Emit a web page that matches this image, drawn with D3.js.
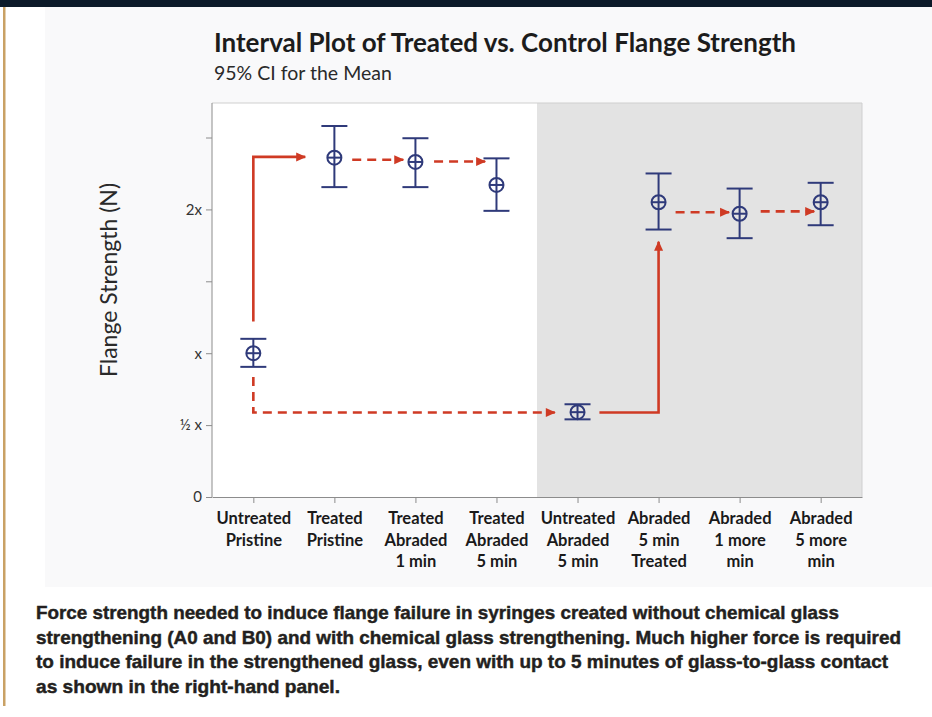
<!DOCTYPE html>
<html>
<head>
<meta charset="utf-8">
<script src="https://cdn.jsdelivr.net/npm/d3@7"></script>
<style>
  body { margin: 0; background: #fff; }
  svg { display: block; }
</style>
</head>
<body>
<svg id="chart" width="932" height="717"></svg>
<script>
// data (units of "x")
const categories = [
    "Untreated\nPristine",
    "Treated\nPristine",
    "Treated\nAbraded\n1 min",
    "Treated\nAbraded\n5 min",
    "Untreated\nAbraded\n5 min",
    "Abraded\n5 min\nTreated",
    "Abraded\n1 more\nmin",
    "Abraded\n5 more\nmin"
];
const means = [1.00, 2.36, 2.33, 2.17, 0.59, 2.05, 1.97, 2.05];
const lower = [0.905, 2.155, 2.155, 1.99, 0.54, 1.86, 1.80, 1.89];
const upper = [1.10, 2.58, 2.495, 2.355, 0.645, 2.25, 2.145, 2.185];

const yTickValues = [0, 0.5, 1, 1.5, 2, 2.5];
const yTickLabels = ["0", "½ x", "x", "", "2x", ""];

// arrows: [category position, value] pairs
const arrows = [
    { dashed: false, pts: [[0, 1.22], [0, 2.365], [0.64, 2.365]] },
    { dashed: true,  pts: [[1.22, 2.345], [1.85, 2.345]] },
    { dashed: true,  pts: [[2.23, 2.333], [2.86, 2.333]] },
    { dashed: true,  pts: [[0, 0.835], [0, 0.588], [3.72, 0.588]] },
    { dashed: false, pts: [[4.27, 0.588], [5, 0.588], [5, 1.775]] },
    { dashed: true,  pts: [[5.21, 1.98], [5.87, 1.98]] },
    { dashed: true,  pts: [[6.26, 1.986], [6.92, 1.986]] }
];

const title = "Interval Plot of Treated vs. Control Flange Strength";
const subtitle = "95% CI for the Mean";
const yTitle = "Flange Strength (N)";
const caption = [
    "Force strength needed to induce flange failure in syringes created without chemical glass",
    "strengthening (A0 and B0) and with chemical glass strengthening. Much higher force is required",
    "to induce failure in the strengthened glass, even with up to 5 minutes of glass-to-glass contact",
    "as shown in the right-hand panel."
];
// measured widths of the condensed caption lines
const captionWidths = [803, 865, 852, 304];

const W = 932, H = 717;
const plot = { left: 212, right: 862, top: 103, bottom: 497 };
const navy = "#2f3a7a";
const red = "#cf3a24";
const font = "Lato, 'Open Sans', sans-serif";

const svg = d3.select("#chart");

// page frame: dark strip on top, gold rule on the left
svg.append("rect").attr("x", 0).attr("y", 0).attr("width", W).attr("height", 7).attr("fill", "#0c1a29");
svg.append("rect").attr("x", 45).attr("y", 7).attr("width", W - 45).attr("height", 580).attr("fill", "#f9f9fa");
svg.append("rect").attr("x", 3).attr("y", 7).attr("width", 2.5).attr("height", 699).attr("fill", "#c9a165");

const x = d3.scalePoint()
    .domain(d3.range(categories.length))
    .range([plot.left, plot.right])
    .padding(0.51);
const xAt = f => x(0) + f * x.step();

const y = d3.scaleLinear()
    .domain([0, 2.74])
    .range([plot.bottom, plot.top]);

// plot background + shaded right-hand panel
svg.append("rect")
    .attr("x", plot.left).attr("y", plot.top)
    .attr("width", plot.right - plot.left).attr("height", plot.bottom - plot.top)
    .attr("fill", "#ffffff");
svg.append("rect")
    .attr("x", xAt(3.5)).attr("y", plot.top)
    .attr("width", plot.right - xAt(3.5)).attr("height", plot.bottom - plot.top)
    .attr("fill", "#e3e3e3");
// light frame top/right
svg.append("path")
    .attr("d", `M${plot.left},${plot.top}H${plot.right}V${plot.bottom}`)
    .attr("fill", "none").attr("stroke", "#cfcfcf").attr("stroke-width", 1);

// axes
const xAxis = svg.append("g")
    .attr("transform", `translate(0,${plot.bottom})`)
    .call(d3.axisBottom(x).tickSize(6).tickSizeOuter(0).tickFormat(""));
xAxis.selectAll("path, line").attr("stroke", "#8c8c8c");

xAxis.selectAll(".tick").append("text")
    .attr("fill", "#1a1a1a")
    .attr("font-family", font)
    .attr("font-weight", "bold")
    .attr("font-size", 16.5)
    .attr("text-anchor", "middle")
    .each(function(d) {
        const lines = categories[d].split("\n");
        d3.select(this).selectAll("tspan")
            .data(lines)
            .join("tspan")
            .attr("x", 0)
            .attr("y", (l, i) => 27 + i * 21.7)
            .text(l => l);
    });

const yAxis = svg.append("g")
    .attr("transform", `translate(${plot.left},0)`)
    .call(d3.axisLeft(y)
        .tickValues(yTickValues)
        .tickSize(6)
        .tickSizeOuter(0)
        .tickFormat((d, i) => yTickLabels[i]));
yAxis.select(".domain").attr("d", `M0,${plot.bottom}V${plot.top}`);
yAxis.selectAll("path, line").attr("stroke", "#8c8c8c");
yAxis.selectAll("text")
    .attr("fill", "#333")
    .attr("font-family", font)
    .attr("font-size", 15)
    .attr("x", -10);

// arrows
const defs = svg.append("defs");
defs.append("marker")
    .attr("id", "head")
    .attr("viewBox", "0 0 10 10")
    .attr("refX", 9).attr("refY", 5)
    .attr("markerUnits", "userSpaceOnUse")
    .attr("markerWidth", 11).attr("markerHeight", 10)
    .attr("orient", "auto")
    .append("path")
    .attr("d", "M0,0.5L10,5L0,9.5Z")
    .attr("fill", red);

const line = d3.line().x(d => xAt(d[0])).y(d => y(d[1]));
svg.append("g").selectAll("path")
    .data(arrows)
    .join("path")
    .attr("d", d => line(d.pts))
    .attr("fill", "none")
    .attr("stroke", red)
    .attr("stroke-width", 2.6)
    .attr("stroke-dasharray", d => d.dashed ? "9,6" : null)
    .attr("marker-end", "url(#head)");

// interval marks
const marks = svg.append("g").selectAll("g")
    .data(means.map((m, i) => ({ i, m, lo: lower[i], hi: upper[i] })))
    .join("g")
    .attr("transform", d => `translate(${x(d.i)},0)`)
    .attr("stroke", navy)
    .attr("stroke-width", 2)
    .attr("fill", "none");

marks.append("line").attr("x1", 0).attr("x2", 0).attr("y1", d => y(d.hi)).attr("y2", d => y(d.lo));
marks.append("line").attr("x1", -13).attr("x2", 13).attr("y1", d => y(d.hi)).attr("y2", d => y(d.hi));
marks.append("line").attr("x1", -13).attr("x2", 13).attr("y1", d => y(d.lo)).attr("y2", d => y(d.lo));
marks.append("circle").attr("cx", 0).attr("cy", d => y(d.m)).attr("r", 7);
marks.append("line").attr("x1", -7).attr("x2", 7).attr("y1", d => y(d.m)).attr("y2", d => y(d.m));

// titles
svg.append("text")
    .attr("x", 214).attr("y", 52)
    .attr("font-family", font).attr("font-weight", "bold").attr("font-size", 26)
    .attr("fill", "#1c1c1c")
    .text(title);
svg.append("text")
    .attr("x", 214).attr("y", 80)
    .attr("font-family", font).attr("font-size", 19.5)
    .attr("fill", "#2a2a2a")
    .text(subtitle);
svg.append("text")
    .attr("transform", `translate(117,${(plot.top + plot.bottom) / 2 - 20}) rotate(-90)`)
    .attr("text-anchor", "middle")
    .attr("font-family", font).attr("font-size", 23)
    .attr("fill", "#2a2a2a")
    .text(yTitle);

// caption, squeezed horizontally to match the condensed face
svg.append("g").selectAll("text")
    .data(caption)
    .join("text")
    .attr("x", 36)
    .attr("y", (d, i) => 619 + i * 24.7)
    .attr("font-family", "'Liberation Sans', Arial, sans-serif")
    .attr("font-weight", "bold")
    .attr("font-size", 19)
    .attr("textLength", (d, i) => captionWidths[i])
    .attr("lengthAdjust", "spacingAndGlyphs")
    .attr("fill", "#231f20")
    .attr("stroke", "#231f20")
    .attr("stroke-width", 0.45)
    .text(d => d);
</script>
</body>
</html>
